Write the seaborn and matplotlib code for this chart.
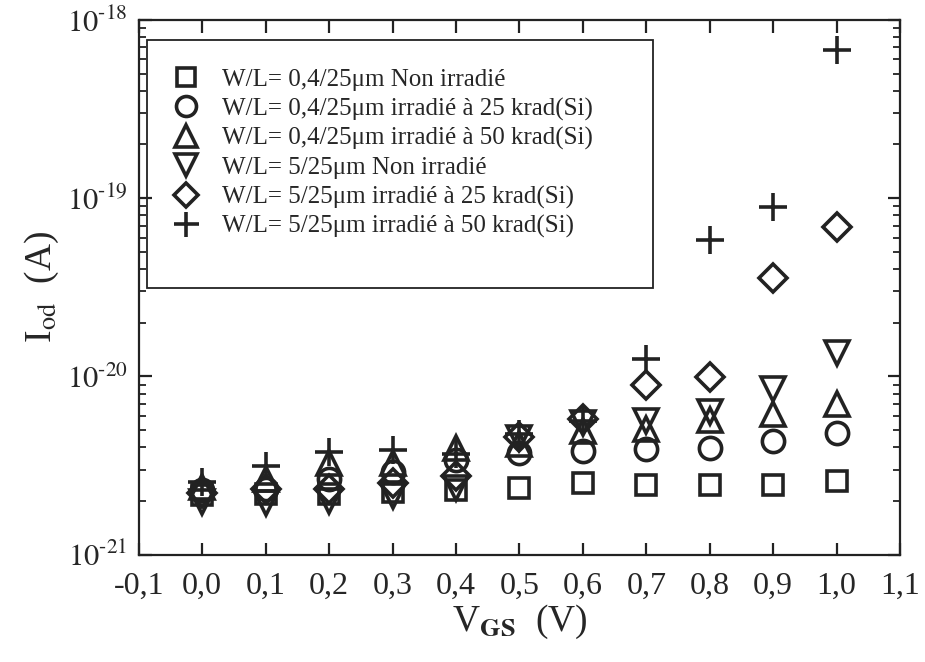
import numpy as np
import pandas as pd
import matplotlib
matplotlib.use("Agg")
import matplotlib.pyplot as plt
import seaborn as sns
from matplotlib.patches import Rectangle
from matplotlib.ticker import FixedLocator, FuncFormatter, LogLocator, NullFormatter


# ── Data ──────────────────────────────────────────────────────────────────────

vgs = [0.0, 0.1, 0.2, 0.3, 0.4, 0.5, 0.6, 0.7, 0.8, 0.9, 1.0]

# values in units of 1e-21 A
sq_04_ref   = [2.15, 2.20, 2.20, 2.25, 2.30, 2.38, 2.53, 2.47, 2.45, 2.47, 2.60]
ci_04_25    = [2.30, 2.35, 2.67, 2.90, 3.40, 3.74, 3.84, 3.94, 3.99, 4.37, 4.84]
tu_04_50    = [2.40, 2.67, 3.25, 3.29, 3.99, 4.20, 4.97, 5.10, 5.73, 6.12, 7.05]
td_5_ref    = [1.97, 1.96, 2.01, 2.14, 2.38, 4.50, 5.50, 5.66, 6.28, 8.45, 13.5]
di_5_25     = [2.23, 2.35, 2.35, 2.54, 2.78, 4.60, 5.80, 8.90, 9.87, 35.5, 68.7]
pl_5_50     = [2.57, 3.16, 3.79, 3.89, 3.69, 4.78, 5.66, 12.5, 58.1, 89.0, 680.0]

labels = [
    "W/L= 0,4/25\u03bcm Non irradi\u00e9",
    "W/L= 0,4/25\u03bcm irradi\u00e9 \u00e0 25 krad(Si)",
    "W/L= 0,4/25\u03bcm irradi\u00e9 \u00e0 50 krad(Si)",
    "W/L= 5/25\u03bcm Non irradi\u00e9",
    "W/L= 5/25\u03bcm irradi\u00e9 \u00e0 25 krad(Si)",
    "W/L= 5/25\u03bcm irradi\u00e9 \u00e0 50 krad(Si)",
]
series = [sq_04_ref, ci_04_25, tu_04_50, td_5_ref, di_5_25, pl_5_50]

markers = ["s", "o", "^", "v", "D", "+"]
msizes  = [14.5, 16, 17, 17, 14, 20]

xticks = [-0.1, 0.0, 0.1, 0.2, 0.3, 0.4, 0.5, 0.6, 0.7, 0.8, 0.9, 1.0, 1.1]
INK = "#222222"


# ── Style ─────────────────────────────────────────────────────────────────────

sns.set_theme(style="ticks")
plt.rcParams["font.family"] = ["Liberation Serif", "DejaVu Serif"]
plt.rcParams["mathtext.fontset"] = "stix"
plt.rcParams["axes.linewidth"] = 1.6

fig = plt.figure(figsize=(9.25, 6.62), dpi=100)
ax = fig.add_axes([0.150, 0.162, 0.823, 0.808])

for vals, lab, m, ms in zip(series, labels, markers, msizes):
    df = pd.DataFrame({"x": vgs, "y": np.array(vals) * 1e-21})
    sns.lineplot(data=df, x="x", y="y", ax=ax, label=lab,
                 marker=m, markersize=ms, markerfacecolor="none",
                 markeredgecolor=INK, markeredgewidth=2.6,
                 color=INK, linestyle="", estimator=None)

ax.set_yscale("log")
ax.set_xlim(-0.1, 1.1)
ax.set_ylim(1e-21, 1e-18)

ax.xaxis.set_major_locator(FixedLocator(xticks))
ax.xaxis.set_major_formatter(FuncFormatter(lambda v, p: f"{v:.1f}".replace(".", ",")))
ax.yaxis.set_major_locator(FixedLocator([1e-21, 1e-20, 1e-19, 1e-18]))
ax.yaxis.set_major_formatter(
    FuncFormatter(lambda v, p: r"$10^{\text{-}%d}$" % abs(round(np.log10(v)))))
ax.yaxis.set_minor_locator(LogLocator(base=10, subs=np.arange(2, 10)))
ax.yaxis.set_minor_formatter(NullFormatter())

ax.tick_params(which="both", direction="in", top=True, right=True, color=INK)
ax.tick_params(which="major", length=9, width=1.6)
ax.tick_params(which="minor", length=5, width=1.3)
ax.tick_params(axis="x", which="major", labelsize=23, pad=12)
ax.tick_params(axis="y", which="major", labelsize=22, pad=8)

for s in ax.spines.values():
    s.set_color(INK)

ax.set_xlabel(r"V$_{\mathbf{GS}}$  (V)", fontsize=27, labelpad=2)
ax.set_ylabel(r"I$_{\mathrm{od}}$  (A)", fontsize=27, labelpad=4)

# legend box is taller than its entries in the original, draw it separately
ax.add_patch(Rectangle((0.0105, 0.499), 0.6645, 0.4636, transform=ax.transAxes,
                       fill=False, edgecolor=INK, linewidth=1.3, zorder=4))
leg = ax.legend(loc="upper left", bbox_to_anchor=(0.0453, 0.909),
                borderaxespad=0, borderpad=0, fontsize=18, frameon=False,
                handlelength=1.0, handletextpad=0.94, labelspacing=0.26,
                markerscale=0.9)

fig.savefig("out.png", dpi=100)
